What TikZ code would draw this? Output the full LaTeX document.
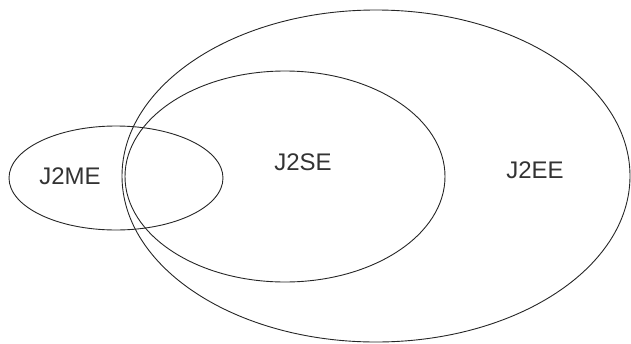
\documentclass[tikz,border=0pt]{standalone}
\usepackage{fontspec}
\setmainfont{Liberation Sans}
\begin{document}
\begin{tikzpicture}[x=1pt,y=-1pt]
\tikzset{
  ring/.style={draw=black!85, line width=0.9pt},
  platform/.style={font=\fontsize{24}{24}\selectfont, text=black!80, inner sep=0pt}
}
\useasboundingbox (0,0) rectangle (631,343);
% Centres of the three sets
\coordinate (eecentre) at (376,176);
\coordinate (secentre) at (285,176.5);
\coordinate (mecentre) at (116,178);
% J2EE, the largest set
\draw[ring] (eecentre) ellipse [x radius=254, y radius=166];
% J2SE inside J2EE
\draw[ring] (secentre) ellipse [x radius=160, y radius=105.5];
% J2ME overlapping both on the left
\draw[ring] (mecentre) ellipse [x radius=107, y radius=52];
% Labels
\node[platform] (ee) at (535,170) {J2EE};
\node[platform] (se) at (303,162) {J2SE};
\node[platform] (me) at (70,176) {J2ME};
\end{tikzpicture}
\end{document}
